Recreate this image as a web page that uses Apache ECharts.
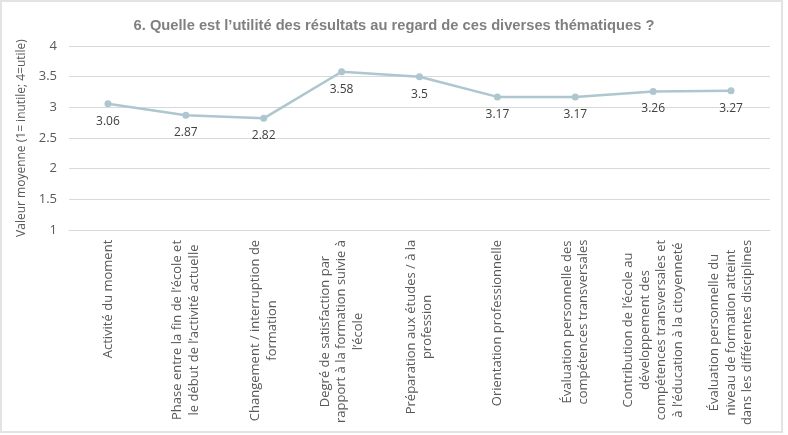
<!DOCTYPE html>
<html>
<head>
<meta charset="utf-8">
<script src="https://cdn.jsdelivr.net/npm/echarts@6/dist/echarts.min.js"></script>
<style>
  html, body { margin: 0; padding: 0; background: #fff; }
  #chart { width: 788px; height: 435px; }
  #frame { position: absolute; left: 0; top: 0; width: 779px; height: 429px; border: 2px solid #e3e3e3; pointer-events: none; }
</style>
</head>
<body>
<div id="chart"></div>
<div id="frame"></div>
<script>
const titleText = "6. Quelle est l\u2019utilité des résultats au regard de ces diverses thématiques ?";
const yAxisName = "Valeur moyenne (1= inutile; 4=utile)";
const categories = [
  ["Activité du moment"],
  ["Phase entre la fin de l\u2019école et", "le début de l\u2019activité actuelle"],
  ["Changement / interruption de", "formation"],
  ["Degré de satisfaction par", "rapport à la formation suivie à", "l\u2019école"],
  ["Préparation aux études / à la", "profession"],
  ["Orientation professionnelle"],
  ["Évaluation personnelle des", "compétences transversales"],
  ["Contribution de l\u2019école au", "développement des", "compétences transversales et", "à l\u2019éducation à la citoyenneté"],
  ["Évaluation personnelle du", "niveau de formation atteint", "dans les différentes disciplines"]
];
const values = [3.06, 2.87, 2.82, 3.58, 3.5, 3.17, 3.17, 3.26, 3.27];
const yMin = 1, yMax = 4, yStep = 0.5;

const labelFont = '13px "Open Sans"';
const ctx = document.createElement('canvas').getContext('2d');
ctx.font = labelFont;
const rich = {};
categories.forEach((lines, i) => {
  const w = Math.ceil(Math.max(...lines.map(l => ctx.measureText(l).width))) + 1;
  rich['w' + i] = { width: w, align: 'center', fontFamily: 'Open Sans', fontSize: 13, color: '#595959', lineHeight: 16.5 };
});

const chart = echarts.init(document.getElementById('chart'), null, { renderer: 'canvas' });
chart.setOption({
  animation: false,
  backgroundColor: '#fff',
  title: {
    text: titleText,
    left: 'center',
    top: 13,
    textStyle: { fontFamily: 'Liberation Sans', fontWeight: 'bold', fontSize: 14.7, color: '#808080' }
  },
  grid: { left: 69, right: 18, top: 46, bottom: 205, containLabel: false },
  xAxis: {
    type: 'category',
    data: categories.map((c, i) => String(i)),
    boundaryGap: true,
    axisLine: { lineStyle: { color: '#d9d9d9', width: 1 } },
    axisTick: { show: false },
    axisLabel: {
      interval: 0,
      rotate: 90,
      margin: 9,
      formatter: (v, idx) => categories[idx].map(l => '{w' + idx + '|' + l + '}').join('\n'),
      rich: rich,
      fontFamily: 'Open Sans',
      fontSize: 13,
      color: '#595959',
      lineHeight: 16.5
    }
  },
  yAxis: {
    type: 'value',
    min: yMin,
    max: yMax,
    interval: yStep,
    name: yAxisName,
    nameLocation: 'middle',
    nameGap: 40,
    nameTextStyle: { fontFamily: 'Open Sans', fontSize: 12, color: '#595959' },
    axisLine: { show: false },
    axisTick: { show: false },
    axisLabel: { margin: 12, fontFamily: 'Open Sans', fontSize: 13, color: '#595959' },
    splitLine: { lineStyle: { color: '#d9d9d9', width: 1 } }
  },
  series: [{
    type: 'line',
    data: values,
    symbol: 'circle',
    symbolSize: 7,
    lineStyle: { color: '#adc6cf', width: 2.5 },
    itemStyle: { color: '#adc6cf' },
    label: {
      show: true,
      position: 'bottom',
      distance: 8,
      fontFamily: 'Open Sans',
      fontSize: 12,
      color: '#404040'
    }
  }]
});
</script>
</body>
</html>
